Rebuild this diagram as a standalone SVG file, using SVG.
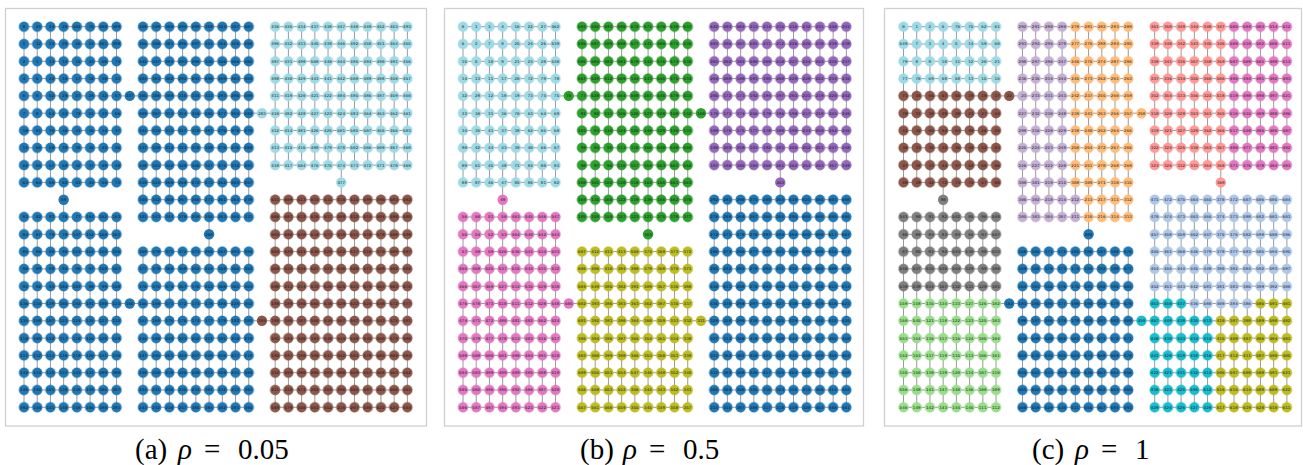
<svg xmlns="http://www.w3.org/2000/svg" xmlns:xlink="http://www.w3.org/1999/xlink" width="1303" height="465" viewBox="0 0 1303 465">
<style>
.lb{font-family:"Liberation Mono",monospace;font-size:4.2px;letter-spacing:0.1236px;fill:#141414;white-space:pre;text-rendering:geometricPrecision}
.cl{font-family:"Liberation Mono",monospace;font-size:4.2px;fill:#141414;text-anchor:middle;text-rendering:geometricPrecision}
.cap{font-family:"Liberation Serif",serif;font-size:29px;fill:#000}
.frame{fill:none;stroke:#d0d0d0;stroke-width:1.3}
.ed{fill:none;stroke:#9a9a9a;stroke-width:1}
.fB{fill:#1f77b4}.fLB{fill:#9edae5}.fBR{fill:#8c564b}.fGR{fill:#2ca02c}.fPU{fill:#9467bd}.fPK{fill:#e377c2}.fOL{fill:#bcbd22}
.fLV{fill:#c5b0d5}.fOR{fill:#ffbb78}.fSA{fill:#ff9896}.fGY{fill:#7f7f7f}.fLG{fill:#98df8a}.fSB{fill:#aec7e8}.fTE{fill:#17becf}
</style>
<defs>
<pattern id="nB" patternUnits="userSpaceOnUse" x="-6.61" y="-8.65" width="13.22" height="17.3"><circle cx="6.61" cy="8.65" r="5.2" fill="#1f77b4"/></pattern>
<pattern id="nLB" patternUnits="userSpaceOnUse" x="-6.61" y="-8.65" width="13.22" height="17.3"><circle cx="6.61" cy="8.65" r="5.2" fill="#9edae5"/></pattern>
<pattern id="nBR" patternUnits="userSpaceOnUse" x="-6.61" y="-8.65" width="13.22" height="17.3"><circle cx="6.61" cy="8.65" r="5.2" fill="#8c564b"/></pattern>
<pattern id="nGR" patternUnits="userSpaceOnUse" x="-6.61" y="-8.65" width="13.22" height="17.3"><circle cx="6.61" cy="8.65" r="5.2" fill="#2ca02c"/></pattern>
<pattern id="nPU" patternUnits="userSpaceOnUse" x="-6.61" y="-8.65" width="13.22" height="17.3"><circle cx="6.61" cy="8.65" r="5.2" fill="#9467bd"/></pattern>
<pattern id="nPK" patternUnits="userSpaceOnUse" x="-6.61" y="-8.65" width="13.22" height="17.3"><circle cx="6.61" cy="8.65" r="5.2" fill="#e377c2"/></pattern>
<pattern id="nOL" patternUnits="userSpaceOnUse" x="-6.61" y="-8.65" width="13.22" height="17.3"><circle cx="6.61" cy="8.65" r="5.2" fill="#bcbd22"/></pattern>
<pattern id="nLV" patternUnits="userSpaceOnUse" x="-6.61" y="-8.65" width="13.22" height="17.3"><circle cx="6.61" cy="8.65" r="5.2" fill="#c5b0d5"/></pattern>
<pattern id="nOR" patternUnits="userSpaceOnUse" x="-6.61" y="-8.65" width="13.22" height="17.3"><circle cx="6.61" cy="8.65" r="5.2" fill="#ffbb78"/></pattern>
<pattern id="nSA" patternUnits="userSpaceOnUse" x="-6.61" y="-8.65" width="13.22" height="17.3"><circle cx="6.61" cy="8.65" r="5.2" fill="#ff9896"/></pattern>
<pattern id="nGY" patternUnits="userSpaceOnUse" x="-6.61" y="-8.65" width="13.22" height="17.3"><circle cx="6.61" cy="8.65" r="5.2" fill="#7f7f7f"/></pattern>
<pattern id="nLG" patternUnits="userSpaceOnUse" x="-6.61" y="-8.65" width="13.22" height="17.3"><circle cx="6.61" cy="8.65" r="5.2" fill="#98df8a"/></pattern>
<pattern id="nSB" patternUnits="userSpaceOnUse" x="-6.61" y="-8.65" width="13.22" height="17.3"><circle cx="6.61" cy="8.65" r="5.2" fill="#aec7e8"/></pattern>
<pattern id="nTE" patternUnits="userSpaceOnUse" x="-6.61" y="-8.65" width="13.22" height="17.3"><circle cx="6.61" cy="8.65" r="5.2" fill="#17becf"/></pattern>
<g id="edges" class="ed">
<path d="M0 0h92.54m26.44 0h105.76m26.44 0h132.2M0 17.3h92.54m26.44 0h105.76m26.44 0h132.2M0 34.6h92.54m26.44 0h105.76m26.44 0h132.2M0 51.9h92.54m26.44 0h105.76m26.44 0h132.2M0 69.2h92.54m26.44 0h105.76m26.44 0h132.2M0 86.5h92.54m26.44 0h105.76m26.44 0h132.2M0 103.8h92.54m26.44 0h105.76m26.44 0h132.2M0 121.1h92.54m26.44 0h105.76m26.44 0h132.2M0 138.4h92.54m26.44 0h105.76m26.44 0h132.2M0 155.7h92.54m26.44 0h105.76M118.98 173h105.76m26.44 0h132.2M0 190.3h92.54m26.44 0h105.76m26.44 0h132.2M0 207.6h92.54m158.64 0h132.2M0 224.9h92.54m26.44 0h105.76m26.44 0h132.2M0 242.2h92.54m26.44 0h105.76m26.44 0h132.2M0 259.5h92.54m26.44 0h105.76m26.44 0h132.2M0 276.8h92.54m26.44 0h105.76m26.44 0h132.2M0 294.1h92.54m26.44 0h105.76m26.44 0h132.2M0 311.4h92.54m26.44 0h105.76m26.44 0h132.2M0 328.7h92.54m26.44 0h105.76m26.44 0h132.2M0 346h92.54m26.44 0h105.76m26.44 0h132.2M0 363.3h92.54m26.44 0h105.76m26.44 0h132.2M0 380.6h92.54m26.44 0h105.76m26.44 0h132.2"/>
<path d="M0 0v155.7m0 34.6v190.3M13.22 0v155.7m0 34.6v190.3M26.44 0v155.7m0 34.6v190.3M39.66 0v155.7m0 34.6v190.3M52.88 0v155.7m0 34.6v190.3M66.1 0v155.7m0 34.6v190.3M79.32 0v155.7m0 34.6v190.3M92.54 0v155.7m0 34.6v190.3M118.98 0v190.3m0 34.6v155.7M132.2 0v190.3m0 34.6v155.7M145.42 0v190.3m0 34.6v155.7M158.64 0v190.3m0 34.6v155.7M171.86 0v190.3m0 34.6v155.7M185.08 0v190.3m0 34.6v155.7M198.3 0v190.3m0 34.6v155.7M211.52 0v190.3m0 34.6v155.7M224.74 0v190.3m0 34.6v155.7M251.18 0v138.4m0 34.6v207.6M264.4 0v138.4m0 34.6v207.6M277.62 0v138.4m0 34.6v207.6M290.84 0v138.4m0 34.6v207.6M304.06 0v138.4m0 34.6v207.6M317.28 0v138.4m0 34.6v207.6M330.5 0v138.4m0 34.6v207.6M343.72 0v138.4m0 34.6v207.6M356.94 0v138.4m0 34.6v207.6M370.16 0v138.4m0 34.6v207.6M383.38 0v138.4m0 34.6v207.6"/>
<path d="M92.54 69.2h26.44M224.74 86.5h26.44M317.28 138.4v34.6M39.66 155.7v34.6M185.08 190.3v34.6M92.54 276.8h26.44M224.74 294.1h26.44"/>
</g>
</defs>
<rect width="1303" height="465" fill="#fff"/>
<rect class="frame" x="5.5" y="8.5" width="421" height="417.5"/>
<rect class="frame" x="444.5" y="8.5" width="419" height="417.5"/>
<rect class="frame" x="884.5" y="8.5" width="417" height="417.5"/>

<!-- Panel a -->
<g id="panel-a" transform="translate(24,26.7)">
<g id="a-connectors"><use href="#edges"/></g>
<g id="a-block1"><rect x="-6.61" y="-8.65" width="105.76" height="173" fill="url(#nB)"/>
<text class="lb" xml:space="preserve"><tspan x="-3.9" y="1.5"> 0    21   24   25  402   75  400  399</tspan><tspan x="-3.9" y="18.8"> 1    12   23   20   26   24  401  398</tspan><tspan x="-3.9" y="36.1"> 2    3    13   14   15   23   68   73</tspan><tspan x="-3.9" y="53.4"> 4    5    22   16   17   18   30   31</tspan><tspan x="-3.9" y="70.7"> 6    9    52   28   27   29   32   67</tspan><tspan x="-3.9" y="88"> 7    8    54   53   72   51   33   66</tspan><tspan x="-3.9" y="105.3"> 10   61   70   40   41   35   34   47</tspan><tspan x="-3.9" y="122.6"> 11   60   59   39   38   36   45   46</tspan><tspan x="-3.9" y="139.9"> 62   65   57   58   42   37   49   48</tspan><tspan x="-3.9" y="157.2"> 63   64   56   55   43   44   50   71</tspan></text></g>
<g id="a-block2"><rect x="112.37" y="-8.65" width="118.98" height="207.6" fill="url(#nB)"/>
<text class="lb" xml:space="preserve"><tspan x="115.08" y="1.5">358  349  300  299  298  359  353  357  407</tspan><tspan x="115.08" y="18.8">356  350  301  295  297  351  352  355  408</tspan><tspan x="115.08" y="36.1">345  347  294  293  296  335  356  406  405</tspan><tspan x="115.08" y="53.4">304  303  302  292  291  290  289  403  404</tspan><tspan x="115.08" y="70.7">305  306  308  316  334  333  293  286  409</tspan><tspan x="115.08" y="88">309  307  313  314  315  285  277  284  282</tspan><tspan x="115.08" y="105.3">343  310  311  317  318  287  276  278  279</tspan><tspan x="115.08" y="122.6">337  329  312  321  319  320  275  246  280</tspan><tspan x="115.08" y="139.9">338  323  322  328  326  327  274  332  281</tspan><tspan x="115.08" y="157.2">339  324  269  268  272  273  262  263  257</tspan><tspan x="115.08" y="174.5">340  342  260  267  266  271  261  264  278</tspan><tspan x="115.08" y="191.8">341  343  344  270  259  256  263  265  331</tspan></text></g>
<g id="a-block3"><rect x="244.57" y="-8.65" width="145.42" height="155.7" fill="url(#nLB)"/>
<text class="lb" xml:space="preserve"><tspan x="247.28" y="1.5">436  435  434  437  438  447  448  449  452  453  493</tspan><tspan x="247.28" y="18.8">496  432  433  445  439  446  492  450  451  454  455</tspan><tspan x="247.28" y="36.1">497  431  499  500  440  444  495  494  490  491  456</tspan><tspan x="247.28" y="53.4">498  430  429  443  441  442  508  489  488  458  457</tspan><tspan x="247.28" y="70.7">411  419  420  421  422  484  485  486  487  459  460</tspan><tspan x="247.28" y="88">410  482  428  427  423  424  483  464  463  462  461</tspan><tspan x="247.28" y="105.3">412  414  481  426  425  501  505  507  465  466  503</tspan><tspan x="247.28" y="122.6">413  415  416  480  479  478  502  506  509  467  468</tspan><tspan x="247.28" y="139.9">418  417  504  476  475  474  473  472  471  470  469</tspan></text></g>
<g id="a-block4"><rect x="244.57" y="164.35" width="145.42" height="224.9" fill="url(#nBR)"/>
<text class="lb" xml:space="preserve"><tspan x="247.28" y="174.5">611  609  613  614  615  516  515  599  596  593  592</tspan><tspan x="247.28" y="191.8">606  607  612  616  617  508  512  514  594  590  595</tspan><tspan x="247.28" y="209.1">603  608  610  618  573  519  511  518  578  580  598</tspan><tspan x="247.28" y="226.4">604  620  621  530  528  522  517  516  570  589  597</tspan><tspan x="247.28" y="243.7">568  535  534  527  523  536  520  571  569  582  586</tspan><tspan x="247.28" y="261">590  213  214  533  526  525  521  574  563  583  576</tspan><tspan x="247.28" y="278.3">188  189  195  565  538  529  522  524  548  572  577</tspan><tspan x="247.28" y="295.6">185  186  187  566  539  567  547  546  543  575  581</tspan><tspan x="247.28" y="312.9">191  194  196  193  540  544  549  545  550  579  580</tspan><tspan x="247.28" y="330.2">192  197  198  199  541  542  551  578  585  602  584</tspan><tspan x="247.28" y="347.5">212  209  200  205  203  208  559  557  558  563  562</tspan><tspan x="247.28" y="364.8">211  210  572  202  204  206  555  587  554  560  561</tspan><tspan x="247.28" y="382.1">569  579  556  553  552  216  207  588  622  623  564</tspan></text></g>
<g id="a-block5"><rect x="-6.61" y="181.65" width="105.76" height="207.6" fill="url(#nB)"/>
<text class="lb" xml:space="preserve"><tspan x="-3.9" y="191.8"> 83   82   81   76   77  164  162  163</tspan><tspan x="-3.9" y="209.1"> 84   87   79   78  147  152  160  161</tspan><tspan x="-3.9" y="226.4"> 85   86   80   95  153  154  155  156</tspan><tspan x="-3.9" y="243.7"> 90   89   88   94   96   97  159  157</tspan><tspan x="-3.9" y="261"> 91   92   93  104  103   98   99  158</tspan><tspan x="-3.9" y="278.3">136  134  139  105  102  101  100  133</tspan><tspan x="-3.9" y="295.6">135  108  107  123  124  125  127  132</tspan><tspan x="-3.9" y="312.9">110  109  122  117  118  126  128  129</tspan><tspan x="-3.9" y="330.2">111  112  113  116  119  120  131  130</tspan><tspan x="-3.9" y="347.5">142  114  115  137  143  121  389  388</tspan><tspan x="-3.9" y="364.8">146  145  151  138  148  149  386  387</tspan><tspan x="-3.9" y="382.1">392  144  141  140  150  106  390  391</tspan></text></g>
<g id="a-block6"><rect x="112.37" y="216.25" width="118.98" height="173" fill="url(#nB)"/>
<text class="lb" xml:space="preserve"><tspan x="115.08" y="226.4">369  370  371  372  373  255  257  293  394</tspan><tspan x="115.08" y="243.7">377  378  366  368  252  254  358  365  364</tspan><tspan x="115.08" y="261">376  375  374  367  175  253  360  361  363</tspan><tspan x="115.08" y="278.3">156  168  171  172  173  178  180  228  362</tspan><tspan x="115.08" y="295.6">167  169  170  176  174  177  179  182  183</tspan><tspan x="115.08" y="312.9">246  180  249  223  222  221  181  230  219</tspan><tspan x="115.08" y="330.2">247  245  251  224  227  220  216  217  218</tspan><tspan x="115.08" y="347.5">248  250  239  225  228  213  229  231  380</tspan><tspan x="115.08" y="364.8">244  241  236  235  234  381  232  233  393</tspan><tspan x="115.08" y="382.1">243  242  238  237  385  384  382  383  395</tspan></text></g>
<g id="a-n337"><circle class="fB" cx="105.76" cy="69.2" r="5.2"/><text class="cl" x="105.76" y="70.7">337</text></g>
<g id="a-n283"><circle class="fLB" cx="237.96" cy="86.5" r="5.2"/><text class="cl" x="237.96" y="88">283</text></g>
<g id="a-n477"><circle class="fLB" cx="317.28" cy="155.7" r="5.2"/><text class="cl" x="317.28" y="157.2">477</text></g>
<g id="a-n69"><circle class="fB" cx="39.66" cy="173" r="5.2"/><text class="cl" x="39.66" y="174.5">69</text></g>
<g id="a-n258"><circle class="fB" cx="185.08" cy="207.6" r="5.2"/><text class="cl" x="185.08" y="209.1">258</text></g>
<g id="a-n165"><circle class="fB" cx="105.76" cy="276.8" r="5.2"/><text class="cl" x="105.76" y="278.3">165</text></g>
<g id="a-n184"><circle class="fBR" cx="237.96" cy="294.1" r="5.2"/><text class="cl" x="237.96" y="295.6">184</text></g>
</g>

<!-- Panel b -->
<g id="panel-b" transform="translate(463,26.7)">
<g id="b-connectors"><use href="#edges"/></g>
<g id="b-block1"><rect x="-6.61" y="-8.65" width="105.76" height="173" fill="url(#nLB)"/>
<text class="lb" xml:space="preserve"><tspan x="-3.9" y="1.5"> 0    1    3    4    16   22   27  462</tspan><tspan x="-3.9" y="18.8"> 6    2    7    8    25   24   26  539</tspan><tspan x="-3.9" y="36.1"> 15   5    10   9    21   23   28  538</tspan><tspan x="-3.9" y="53.4"> 14   13   11   17   20   72   79   78</tspan><tspan x="-3.9" y="70.7"> 32   29   12   18   19   73   74   75</tspan><tspan x="-3.9" y="88"> 33   30   31   36   70   63   64   69</tspan><tspan x="-3.9" y="105.3"> 34   35   41   37   38   62   65   68</tspan><tspan x="-3.9" y="122.6"> 90   42   44   43   39   40   66   67</tspan><tspan x="-3.9" y="139.9"> 89   61   45   48   71   84   80   83</tspan><tspan x="-3.9" y="157.2"> 88   87   46   47   85   86   81   82</tspan></text></g>
<g id="b-block2"><rect x="112.37" y="-8.65" width="118.98" height="207.6" fill="url(#nGR)"/>
<text class="lb" xml:space="preserve"><tspan x="115.08" y="1.5">593  592  591  590  572  571  570  538  537</tspan><tspan x="115.08" y="18.8">586  587  589  588  577  141  580  573  536</tspan><tspan x="115.08" y="36.1">585  584  583  581  578  142  576  574  535</tspan><tspan x="115.08" y="53.4">567  529  512  569  144  143  545  575  534</tspan><tspan x="115.08" y="70.7"> 77  528  510  564  568  167  546  579  533</tspan><tspan x="115.08" y="88"> 91   92  111  165  126  127  128  158  132</tspan><tspan x="115.08" y="105.3">103   93  110  124  125  140  129  130  131</tspan><tspan x="115.08" y="122.6"> 99   94   95  113  115  166  548  549  550</tspan><tspan x="115.08" y="139.9"> 98   97   96  116  117  154  553  551  552</tspan><tspan x="115.08" y="157.2">100  101  102  120  118  164  155  561  563</tspan><tspan x="115.08" y="174.5">104  135  160  122  119  139  156  562  376</tspan><tspan x="115.08" y="191.8">105  159  158  157  123  121  375  378  377</tspan></text></g>
<g id="b-block3"><rect x="244.57" y="-8.65" width="145.42" height="155.7" fill="url(#nPU)"/>
<text class="lb" xml:space="preserve"><tspan x="247.28" y="1.5">622  584  582  213  214  215  216  232  231  240  241</tspan><tspan x="247.28" y="18.8">583  206  207  581  211  212  226  225  230  239  238</tspan><tspan x="247.28" y="36.1">201  202  191  580  209  210  227  224  223  236  237</tspan><tspan x="247.28" y="53.4">204  208  190  193  195  200  229  228  222  234  235</tspan><tspan x="247.28" y="70.7">205  172  173  192  194  197  203  221  219  220  242</tspan><tspan x="247.28" y="88">170  171  174  256  179  196  198  217  218  243  246</tspan><tspan x="247.28" y="105.3">189  176  175  177  178  180  199  233  250  244  245</tspan><tspan x="247.28" y="122.6">188  259  258  183  182  181  255  252  251  247  248</tspan><tspan x="247.28" y="139.9">187  186  185  184  260  261  262  254  253  257  249</tspan></text></g>
<g id="b-block4"><rect x="244.57" y="164.35" width="145.42" height="224.9" fill="url(#nB)"/>
<text class="lb" xml:space="preserve"><tspan x="247.28" y="174.5">292  291  290  273  289  264  619  621  601  603  608</tspan><tspan x="247.28" y="191.8">270  269  268  267  266  265  295  604  600  605  606</tspan><tspan x="247.28" y="209.1">272  271  278  276  287  293  294  602  599  617  607</tspan><tspan x="247.28" y="226.4">286  274  296  277  288  441  442  595  598  616  612</tspan><tspan x="247.28" y="243.7">285  282  281  279  284  431  434  596  592  609  610</tspan><tspan x="247.28" y="261">615  611  280  275  283  436  433  437  438  613  614</tspan><tspan x="247.28" y="278.3">435  330  298  297  426  427  430  432  439  618  623</tspan><tspan x="247.28" y="295.6">329  328  299  419  424  425  429  440  446  615  620</tspan><tspan x="247.28" y="312.9">327  313  300  418  423  428  444  443  447  455  458</tspan><tspan x="247.28" y="330.2">311  302  301  420  421  422  445  448  449  456  453</tspan><tspan x="247.28" y="347.5">312  303  308  326  417  324  454  450  451  457  459</tspan><tspan x="247.28" y="364.8">305  304  306  325  316  323  310  415  460  414  452</tspan><tspan x="247.28" y="382.1">314  315  307  309  317  318  319  320  463  448  461</tspan></text></g>
<g id="b-block5"><rect x="-6.61" y="181.65" width="105.76" height="207.6" fill="url(#nPK)"/>
<text class="lb" xml:space="preserve"><tspan x="-3.9" y="191.8"> 56   60   51   50  463  545  546  547</tspan><tspan x="-3.9" y="209.1"> 55   54   52   53  464  540  542  543</tspan><tspan x="-3.9" y="226.4"> 57   58   59  526  536  541  534  533</tspan><tspan x="-3.9" y="243.7">465  468  525  537  515  544  531  532</tspan><tspan x="-3.9" y="261">466  467  469  527  514  535  529  530</tspan><tspan x="-3.9" y="278.3">476  470  473  510  511  512  528  548</tspan><tspan x="-3.9" y="295.6">474  471  472  480  481  482  562  524</tspan><tspan x="-3.9" y="312.9">475  479  477  478  513  483  516  517</tspan><tspan x="-3.9" y="330.2">509  508  500  501  490  484  491  518</tspan><tspan x="-3.9" y="347.5">504  503  499  498  489  485  488  519</tspan><tspan x="-3.9" y="364.8">505  502  496  495  492  486  487  520</tspan><tspan x="-3.9" y="382.1">506  507  497  494  493  523  522  521</tspan></text></g>
<g id="b-block6"><rect x="112.37" y="216.25" width="118.98" height="173" fill="url(#nOL)"/>
<text class="lb" xml:space="preserve"><tspan x="115.08" y="226.4">607  412  411  413  550  374  369  373  372</tspan><tspan x="115.08" y="243.7">606  406  410  384  380  379  368  370  371</tspan><tspan x="115.08" y="261">604  549  385  382  381  389  367  336  388</tspan><tspan x="115.08" y="278.3">602  393  386  383  363  362  387  335  337</tspan><tspan x="115.08" y="295.6">601  392  391  390  364  360  359  333  332</tspan><tspan x="115.08" y="312.9">395  394  396  397  365  354  361  334  338</tspan><tspan x="115.08" y="330.2">403  400  399  398  366  353  350  351  339</tspan><tspan x="115.08" y="347.5">609  555  551  554  547  346  348  352  340</tspan><tspan x="115.08" y="364.8">556  558  553  552  356  344  343  342  341</tspan><tspan x="115.08" y="382.1">557  561  560  559  355  345  349  358  357</tspan></text></g>
<g id="b-n76"><circle class="fGR" cx="105.76" cy="69.2" r="5.2"/><text class="cl" x="105.76" y="70.7">76</text></g>
<g id="b-n169"><circle class="fGR" cx="237.96" cy="86.5" r="5.2"/><text class="cl" x="237.96" y="88">169</text></g>
<g id="b-n263"><circle class="fPU" cx="317.28" cy="155.7" r="5.2"/><text class="cl" x="317.28" y="157.2">263</text></g>
<g id="b-n49"><circle class="fPK" cx="39.66" cy="173" r="5.2"/><text class="cl" x="39.66" y="174.5">49</text></g>
<g id="b-n163"><circle class="fGR" cx="185.08" cy="207.6" r="5.2"/><text class="cl" x="185.08" y="209.1">163</text></g>
<g id="b-n605"><circle class="fPK" cx="105.76" cy="276.8" r="5.2"/><text class="cl" x="105.76" y="278.3">605</text></g>
<g id="b-n331"><circle class="fOL" cx="237.96" cy="294.1" r="5.2"/><text class="cl" x="237.96" y="295.6">331</text></g>
</g>

<!-- Panel c -->
<g id="panel-c" transform="translate(903.5,26.7)">
<g id="c-connectors"><use href="#edges"/></g>
<g id="c-block1"><rect x="-6.61" y="-8.65" width="105.76" height="69.2" fill="url(#nLB)"/><rect x="-6.61" y="60.55" width="105.76" height="103.8" fill="url(#nBR)"/>
<text class="lb" xml:space="preserve"><tspan x="-3.9" y="1.5"> 0    1    2    6    76   75   62   61</tspan><tspan x="-3.9" y="18.8">549   7    3    4    5    14   59   60</tspan><tspan x="-3.9" y="36.1"> 79   8    9    10   11   12   20   21</tspan><tspan x="-3.9" y="53.4"> 77   70   69   68   58   13   15   16</tspan><tspan x="-3.9" y="70.7"> 71   34   66   67   65   19   18   17</tspan><tspan x="-3.9" y="88"> 78   31   30   29   28   23   27   24</tspan><tspan x="-3.9" y="105.3"> 41   32   65   64   63   49   26   25</tspan><tspan x="-3.9" y="122.6"> 36   33   35   45   46   48   52   53</tspan><tspan x="-3.9" y="139.9"> 37   38   43   44   47   54   55   56</tspan><tspan x="-3.9" y="157.2"> 40   39   42   72   73   74   57   50</tspan></text></g>
<g id="c-block2"><rect x="112.37" y="-8.65" width="52.88" height="173" fill="url(#nLV)"/><rect x="165.25" y="-8.65" width="66.1" height="173" fill="url(#nOR)"/><rect x="112.37" y="164.35" width="66.1" height="34.6" fill="url(#nLV)"/><rect x="178.47" y="164.35" width="52.88" height="34.6" fill="url(#nOR)"/>
<text class="lb" xml:space="preserve"><tspan x="115.08" y="1.5">292  291  290  280  278  281  282  283  289</tspan><tspan x="115.08" y="18.8">293  294  295  279  277  276  288  284  285</tspan><tspan x="115.08" y="36.1">298  297  296  247  246  275  274  287  286</tspan><tspan x="115.08" y="53.4">236  235  234  244  245  273  262  261  263</tspan><tspan x="115.08" y="70.7"> 23  233  231  243  242  237  255  260  259</tspan><tspan x="115.08" y="88">227  232  230  248  239  241  253  256  257</tspan><tspan x="115.08" y="105.3">299  316  228  229  238  240  252  264  265</tspan><tspan x="115.08" y="122.6">225  224  223  249  250  254  272  267  266</tspan><tspan x="115.08" y="139.9">226  227  222  220  221  251  270  268  269</tspan><tspan x="115.08" y="157.2">300  301  219  215  308  309  271  310  315</tspan><tspan x="115.08" y="174.5">306  302  218  214  212  213  217  311  312</tspan><tspan x="115.08" y="191.8">305  303  304  307  211  210  216  314  313</tspan></text></g>
<g id="c-block3"><rect x="244.57" y="-8.65" width="79.32" height="155.7" fill="url(#nSA)"/><rect x="323.89" y="-8.65" width="66.1" height="155.7" fill="url(#nPK)"/>
<text class="lb" xml:space="preserve"><tspan x="247.28" y="1.5">351  350  349  344  348  347  505  504  503  514  512</tspan><tspan x="247.28" y="18.8">339  340  342  343  345  346  508  510  502  500  511</tspan><tspan x="247.28" y="36.1">338  341  335  357  358  359  507  509  501  499  513</tspan><tspan x="247.28" y="53.4">337  336  334  355  360  506  495  494  491  492  493</tspan><tspan x="247.28" y="70.7">352  354  333  356  322  518  519  498  490  497  521</tspan><tspan x="247.28" y="88">318  320  328  353  361  365  516  515  489  488  496</tspan><tspan x="247.28" y="105.3">319  321  327  329  362  366  517  520  485  486  487</tspan><tspan x="247.28" y="122.6">322  324  325  330  363  367  480  477  479  481  482</tspan><tspan x="247.28" y="139.9">323  326  332  331  364  368  371  476  478  484  483</tspan></text></g>
<g id="c-block4"><rect x="244.57" y="164.35" width="145.42" height="103.8" fill="url(#nSB)"/><rect x="244.57" y="268.15" width="39.66" height="17.3" fill="url(#nTE)"/><rect x="284.23" y="268.15" width="66.1" height="17.3" fill="url(#nSB)"/><rect x="350.33" y="268.15" width="39.66" height="17.3" fill="url(#nOL)"/><rect x="244.57" y="285.45" width="66.1" height="103.8" fill="url(#nTE)"/><rect x="310.67" y="285.45" width="79.32" height="103.8" fill="url(#nOL)"/>
<text class="lb" xml:space="preserve"><tspan x="247.28" y="174.5">471  472  475  464  465  370  372  607  606  605  604</tspan><tspan x="247.28" y="191.8">470  474  473  463  466  374  373  598  602  601  603</tspan><tspan x="247.28" y="209.1">457  458  459  462  447  375  376  582  599  600  596</tspan><tspan x="247.28" y="226.4">455  461  460  446  379  378  377  583  585  594  595</tspan><tspan x="247.28" y="243.7">454  456  444  445  448  380  382  584  592  593  597</tspan><tspan x="247.28" y="261">452  451  443  442  581  381  383  385  399  392  400</tspan><tspan x="247.28" y="278.3">453  450  437  436  580  409  384  386  586  591  401</tspan><tspan x="247.28" y="295.6">467  449  438  435  613  410  387  388  589  590  402</tspan><tspan x="247.28" y="312.9">440  439  433  434  414  415  408  407  406  404  403</tspan><tspan x="247.28" y="330.2">441  420  419  418  416  417  412  411  587  590  405</tspan><tspan x="247.28" y="347.5">422  421  431  432  413  596  597  608  588  591  621</tspan><tspan x="247.28" y="364.8">430  423  425  595  612  616  615  614  589  609  622</tspan><tspan x="247.28" y="382.1">429  424  426  427  428  617  618  619  620  610  611</tspan></text></g>
<g id="c-block5"><rect x="-6.61" y="181.65" width="105.76" height="86.5" fill="url(#nGY)"/><rect x="-6.61" y="268.15" width="105.76" height="121.1" fill="url(#nLG)"/>
<text class="lb" xml:space="preserve"><tspan x="-3.9" y="191.8">541   90   91   82  542   95   96  548</tspan><tspan x="-3.9" y="209.1"> 86   89   84   83   93   94   97  547</tspan><tspan x="-3.9" y="226.4"> 87   85   81   92  543  130   98  533</tspan><tspan x="-3.9" y="243.7">540  537  535  536  544  129   99  100</tspan><tspan x="-3.9" y="261">539  538  534  157  132  131  128  101</tspan><tspan x="-3.9" y="278.3">159  158  135  134  133  127  126  102</tspan><tspan x="-3.9" y="295.6">160  545  121  118  122  123  125  103</tspan><tspan x="-3.9" y="312.9">553  154  136  117  116  124  105  104</tspan><tspan x="-3.9" y="330.2">152  153  137  119  115  113  106  161</tspan><tspan x="-3.9" y="347.5">155  150  138  139  120  114  107  110</tspan><tspan x="-3.9" y="364.8">556  148  141  147  140  146  108  109</tspan><tspan x="-3.9" y="382.1">546  149  142  143  144  145  111  112</tspan></text></g>
<g id="c-block6"><rect x="112.37" y="216.25" width="118.98" height="173" fill="url(#nB)"/>
<text class="lb" xml:space="preserve"><tspan x="115.08" y="226.4">168  165  171  172  185  186  187  188  576</tspan><tspan x="115.08" y="243.7">169  166  170  173  174  184  182  189  577</tspan><tspan x="115.08" y="261">164  163  156  176  175  181  192  191  581</tspan><tspan x="115.08" y="278.3">183  195  196  177  180  190  193  579  578</tspan><tspan x="115.08" y="295.6">198  197  206  178  179  208  207  592  469</tspan><tspan x="115.08" y="312.9">550  599  520  202  523  575  573  572  571</tspan><tspan x="115.08" y="330.2">554  532  535  205  524  574  568  569  570</tspan><tspan x="115.08" y="347.5">555  551  533  203  525  526  567  564  566</tspan><tspan x="115.08" y="364.8">561  552  528  204  527  558  562  563  565</tspan><tspan x="115.08" y="382.1">560  559  529  530  531  556  557  594  593</tspan></text></g>
<g id="c-n22"><circle class="fBR" cx="105.76" cy="69.2" r="5.2"/><text class="cl" x="105.76" y="70.7">22</text></g>
<g id="c-n258"><circle class="fOR" cx="237.96" cy="86.5" r="5.2"/><text class="cl" x="237.96" y="88">258</text></g>
<g id="c-n369"><circle class="fSA" cx="317.28" cy="155.7" r="5.2"/><text class="cl" x="317.28" y="157.2">369</text></g>
<g id="c-n80"><circle class="fGY" cx="39.66" cy="173" r="5.2"/><text class="cl" x="39.66" y="174.5">80</text></g>
<g id="c-n209"><circle class="fB" cx="185.08" cy="207.6" r="5.2"/><text class="cl" x="185.08" y="209.1">209</text></g>
<g id="c-n162"><circle class="fB" cx="105.76" cy="276.8" r="5.2"/><text class="cl" x="105.76" y="278.3">162</text></g>
<g id="c-n459"><circle class="fTE" cx="237.96" cy="294.1" r="5.2"/><text class="cl" x="237.96" y="295.6">459</text></g>
</g>

<g id="captions">
<text class="cap" y="459"><tspan x="135">(a)</tspan><tspan x="178" font-style="italic">ρ</tspan><tspan x="204">=</tspan><tspan x="238">0.05</tspan></text>
<text class="cap" y="459"><tspan x="580">(b)</tspan><tspan x="623" font-style="italic">ρ</tspan><tspan x="649">=</tspan><tspan x="683">0.5</tspan></text>
<text class="cap" y="459"><tspan x="1032">(c)</tspan><tspan x="1075" font-style="italic">ρ</tspan><tspan x="1101">=</tspan><tspan x="1135">1</tspan></text>
</g>
</svg>
